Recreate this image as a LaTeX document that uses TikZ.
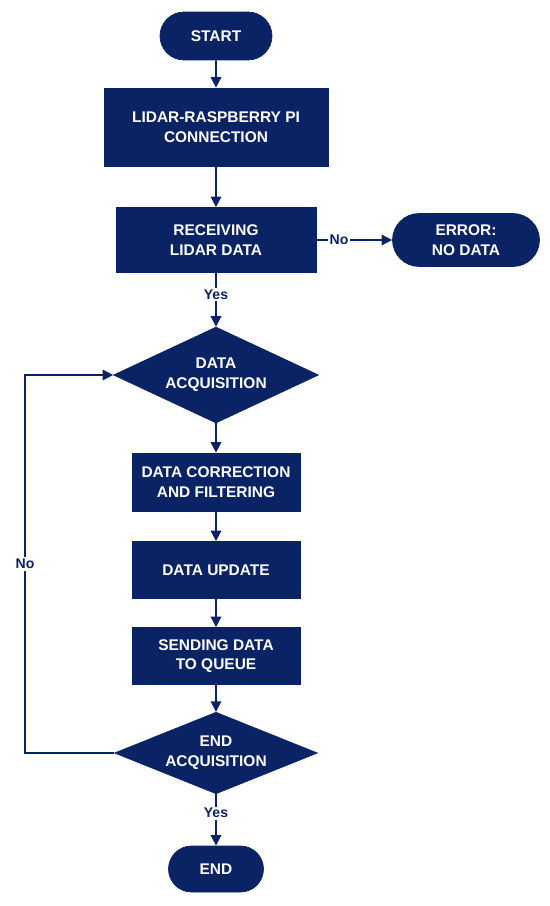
\documentclass[tikz,border=0pt]{standalone}
\usepackage{fontspec}
\setmainfont{Liberation Sans}
\usetikzlibrary{shapes.misc,shapes.geometric,arrows.meta}
\definecolor{navy}{RGB}{10,35,100}
\tikzset{
    base/.style={fill=navy, draw=navy, text=white, align=center, inner sep=0pt,
        font=\fontsize{8.8}{11.2}\selectfont\bfseries},
    terminal/.style={base, rounded rectangle},
    process/.style={base, rectangle},
    decision/.style={base, diamond, aspect=2.1},
    arr/.style={draw=navy, line width=0.9pt, -{Triangle[length=6pt,width=6pt]}},
    lbl/.style={fill=white, text=navy, inner sep=1pt, font=\fontsize{8}{9}\selectfont\bfseries}
}
\begin{document}
\begin{tikzpicture}[x=0.02cm, y=-0.02cm]
        \useasboundingbox (0,0) rectangle (550,906);

        % main column
        \node[terminal, minimum width=2.24cm, minimum height=0.96cm] (start) at (216,36) {START};
        \node[process, minimum width=4.48cm, minimum height=1.56cm] (conn) at (216,127) {LIDAR-RASPBERRY PI\\CONNECTION};
        \node[process, minimum width=4.0cm, minimum height=1.3cm] (recv) at (216,240) {RECEIVING\\LIDAR DATA};
        \node[terminal, minimum width=2.94cm, minimum height=1.06cm] (err) at (466,240) {ERROR:\\NO DATA};
        \node[decision, minimum width=4.1cm, minimum height=1.92cm] (dacq) at (216,375) {DATA\\ACQUISITION};
        \node[process, minimum width=3.36cm, minimum height=1.16cm] (corr) at (216,482) {DATA CORRECTION\\AND FILTERING};
        \node[process, minimum width=3.36cm, minimum height=1.14cm] (upd) at (216,570) {DATA UPDATE};
        \node[process, minimum width=3.36cm, minimum height=1.14cm] (send) at (216,656) {SENDING DATA\\TO QUEUE};
        \node[decision, minimum width=4.06cm, minimum height=1.54cm] (eacq) at (216,753) {END\\ACQUISITION};
        \node[terminal, minimum width=1.9cm, minimum height=0.92cm] (end) at (216,869) {END};
        \coordinate (loop) at (25,753);

        % connectors
        \draw[arr] (start) -- (conn);
        \draw[arr] (conn) -- (recv);
        \draw[arr] (recv) -- node[lbl, pos=0.3] {No} (err);
        \draw[arr] (recv) -- node[lbl, pos=0.4] {Yes} (dacq);
        \draw[arr] (dacq) -- (corr);
        \draw[arr] (corr) -- (upd);
        \draw[arr] (upd) -- (send);
        \draw[arr] (send) -- (eacq);
        \draw[arr] (eacq) -- node[lbl, pos=0.37] {Yes} (end);
        % loop back
        \draw[arr] (eacq.west) -- (loop) |- node[lbl, pos=0.25] {No} (dacq.west);
    \end{tikzpicture}
\end{document}
